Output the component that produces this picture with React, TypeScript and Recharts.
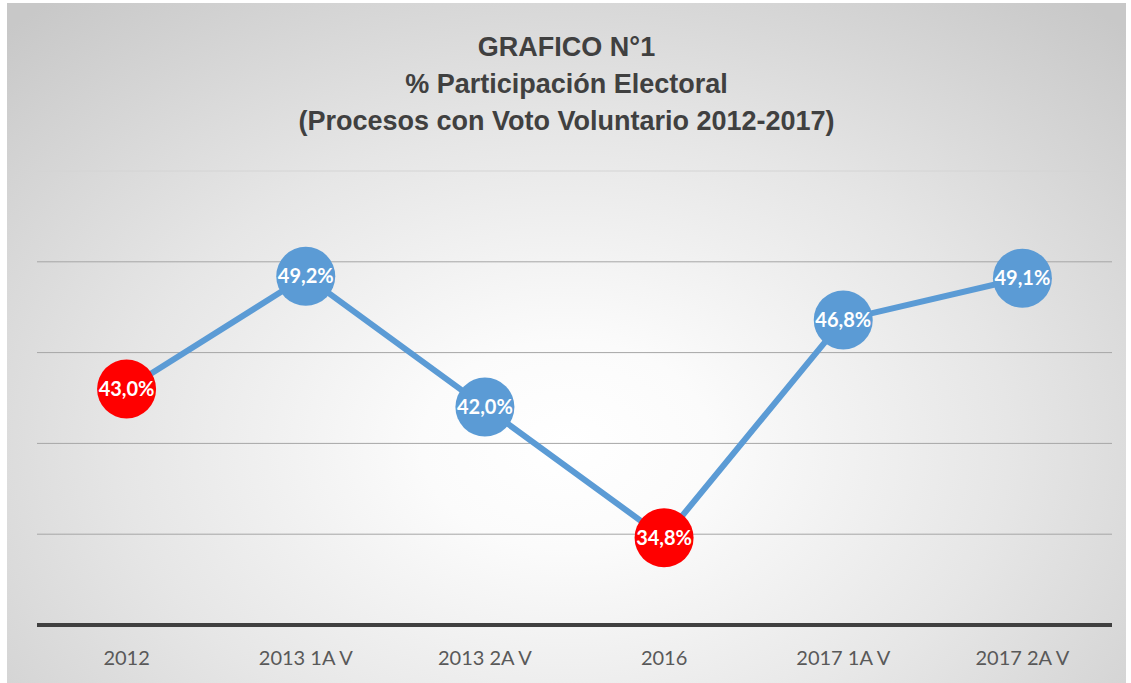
/**
 * Electoral participation line chart (voluntary voting 2012-2017).
 */
import {
  LineChart,
  Line,
  XAxis,
  YAxis,
  CartesianGrid,
  ReferenceLine,
  LabelList,
} from "recharts";

const CATEGORIES = ["2012", "2013 1A V", "2013 2A V", "2016", "2017 1A V", "2017 2A V"];
const PARTICIPATION = [43.0, 49.2, 42.0, 34.8, 46.8, 49.1];
const Y_TICKS = [30, 35, 40, 45, 50, 55];
const TITLE_LINES = [
  "GRAFICO N°1",
  "% Participación Electoral",
  "(Procesos con Voto Voluntario 2012-2017)",
];

const BLUE = "#5B9BD5";
const RED = "#FF0000";
// points drawn in red (lowest turnouts)
const RED_POINTS = [0, 3];

const PLOT_W = 1075;
const HALF_BAND = PLOT_W / CATEGORIES.length / 2;

const chartData = CATEGORIES.map((name, i) => ({
  name,
  value: PARTICIPATION[i],
}));

const formatPct = (v: number) => v.toFixed(1).replace(".", ",") + "%";

function Marker(props: any) {
  const { cx, cy, index } = props;
  if (cx == null || cy == null) return null;
  return (
    <circle
      key={`dot-${index}`}
      cx={cx}
      cy={cy}
      r={29.5}
      fill={RED_POINTS.includes(index) ? RED : BLUE}
      stroke="none"
    />
  );
}

export default function App() {
  return (
    <div
      style={{
        position: "absolute",
        left: 0,
        top: 0,
        width: 1131,
        height: 683,
        background: "#ffffff",
        overflow: "hidden",
      }}
    >
      <div
        style={{
          position: "absolute",
          left: 7,
          top: 3,
          width: 1119,
          height: 680,
          background:
            "radial-gradient(ellipse 72% 85% at 50% 65%, #ffffff 0%, #fbfbfb 18%, #e6e6e6 55%, #c8c8c8 100%)",
        }}
      >
        <div
          style={{
            position: "absolute",
            left: 0,
            top: 26,
            width: 1119,
            textAlign: "center",
            fontFamily: "'Liberation Sans', Arial, sans-serif",
            fontWeight: "bold",
            fontSize: 27,
            lineHeight: "37px",
            color: "#404040",
          }}
        >
          {TITLE_LINES.map((t) => (
            <div key={t}>{t}</div>
          ))}
        </div>
        <LineChart
          width={1119}
          height={680}
          data={chartData}
          margin={{ top: 168, right: 14, bottom: 18, left: 30 }}
          style={{ position: "absolute", left: 0, top: 0 }}
        >
          <CartesianGrid
            vertical={false}
            horizontalValues={[35, 40, 45, 50]}
            stroke="#a6a6a6"
            strokeWidth={1}
          />
          <ReferenceLine y={55} stroke="#d4d4d4" strokeWidth={1} />
          <YAxis hide domain={[30, 55]} ticks={Y_TICKS} />
          <XAxis
            dataKey="name"
            height={40}
            padding={{ left: HALF_BAND, right: HALF_BAND }}
            axisLine={{ stroke: "#404040", strokeWidth: 4 }}
            tickLine={false}
            tickMargin={20}
            tick={{
              fill: "#595959",
              fontSize: 20,
              fontFamily: "Lato, 'Open Sans', sans-serif",
            }}
          />
          <Line
            type="linear"
            dataKey="value"
            stroke={BLUE}
            strokeWidth={6}
            dot={<Marker />}
            activeDot={false}
            isAnimationActive={false}
          >
            <LabelList
              dataKey="value"
              position="center"
              formatter={(v: any) => formatPct(Number(v))}
              fill="#ffffff"
              fontSize={20}
              fontWeight="bold"
              fontFamily="Lato, 'Open Sans', sans-serif"
            />
          </Line>
        </LineChart>
      </div>
    </div>
  );
}
